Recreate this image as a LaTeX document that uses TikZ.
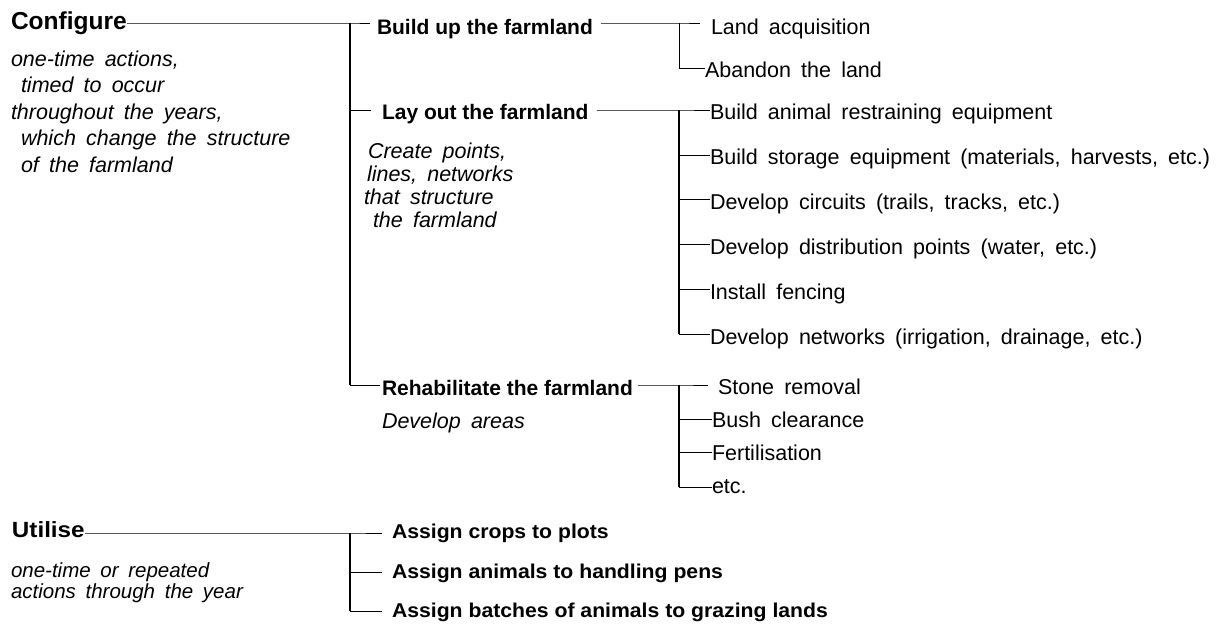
\documentclass[tikz,border=0pt]{standalone}
\usepackage{fontspec}
\setmainfont{Liberation Sans}
\newfontfamily\wsfont{Liberation Sans}[WordSpace=1.5]
\newfontfamily\itfont{Liberation Sans}[WordSpace=1.7]
\newfontfamily\cbfont{Liberation Sans}[FakeStretch=1.06]
\newfontfamily\cufont{Liberation Sans}[FakeStretch=1.1]
\newfontfamily\cdfont{Liberation Sans}[WordSpace=1.5]
\tikzset{
  lbl/.style={anchor=base west, inner sep=0pt, outer sep=0pt},
  itemtxt/.style={lbl, font=\wsfont\fontsize{21.5}{25}\selectfont},
  headtxt/.style={lbl, font=\bfseries\fontsize{21}{25}\selectfont},
  roottxt/.style={lbl, font=\bfseries\fontsize{24.5}{29}\selectfont},
  desctxt/.style={lbl, font=\itfont\itshape\fontsize{21.5}{25}\selectfont},
  bheadtxt/.style={lbl, font=\cbfont\bfseries\fontsize{20}{24}\selectfont},
  broottxt/.style={lbl, font=\cufont\bfseries\fontsize{22}{26}\selectfont},
  bdesctxt/.style={lbl, font=\cdfont\itshape\fontsize{20.5}{24}\selectfont},
  conn/.style={line width=1pt, black},
  trunk/.style={line width=1.4pt, black}
}
\begin{document}
\begin{tikzpicture}[x=1pt,y=-1pt]
\fill[white] (0,0) rectangle (1216,624);
\useasboundingbox (0,0) rectangle (1216,624);

% ---- Configure ----
\node[roottxt] (conf) at (11,29) {Configure};
\node[desctxt] (cd1) at (11,66) {one-time actions,};
\node[desctxt] (cd2) at (21,92) {timed to occur};
\node[desctxt] (cd3) at (11,119) {throughout the years,};
\node[desctxt] (cd4) at (21,145) {which change the structure};
\node[desctxt] (cd5) at (21,172) {of the farmland};

\node[headtxt] (bu) at (377,34) {Build up the farmland};
\node[itemtxt] (la) at (711,34) {Land acquisition};
\node[itemtxt] (ab) at (705,77) {Abandon the land};

\node[headtxt] (lo) at (382,119) {Lay out the farmland};
\node[desctxt] (ld1) at (368,158) {Create points,};
\node[desctxt] (ld2) at (367,181) {lines, networks};
\node[desctxt] (ld3) at (364,204) {that structure};
\node[desctxt] (ld4) at (373,227) {the farmland};

\node[itemtxt] (i1) at (710,119) {Build animal restraining equipment};
\node[itemtxt] (i2) at (710,164) {Build storage equipment (materials, harvests, etc.)};
\node[itemtxt] (i3) at (710,209) {Develop circuits (trails, tracks, etc.)};
\node[itemtxt] (i4) at (710,254) {Develop distribution points (water, etc.)};
\node[itemtxt] (i5) at (710,299) {Install fencing};
\node[itemtxt] (i6) at (710,344) {Develop networks (irrigation, drainage, etc.)};

\node[headtxt] (rh) at (382,395) {Rehabilitate the farmland};
\node[desctxt] (rd) at (382,428) {Develop areas};
\node[itemtxt] (sr) at (718,394) {Stone removal};
\node[itemtxt] (bc) at (712,427) {Bush clearance};
\node[itemtxt] (fe) at (712,460) {Fertilisation};
\node[itemtxt] (et) at (712,493) {etc.};

% ---- Utilise ----
\node[broottxt] (ut) at (12,537) {Utilise};
\node[bdesctxt] (ud1) at (11,577) {one-time or repeated};
\node[bdesctxt] (ud2) at (11,598) {actions through the year};
\node[bheadtxt] (u1) at (392,538) {Assign crops to plots};
\node[bheadtxt] (u2) at (392,578) {Assign animals to handling pens};
\node[bheadtxt] (u3) at (392,617) {Assign batches of animals to grazing lands};

% ---- junction coordinates ----
\coordinate (A1) at (350,23);
\coordinate (A2) at (350,110);
\coordinate (A3) at (350,385);
\coordinate (B1) at (679,23);
\coordinate (B2) at (679,68);
\coordinate (C1) at (679,110);
\coordinate (C2) at (679,155);
\coordinate (C3) at (679,199);
\coordinate (C4) at (679,244);
\coordinate (C5) at (679,289);
\coordinate (C6) at (679,334);
\coordinate (D1) at (679,385);
\coordinate (D2) at (679,419);
\coordinate (D3) at (679,452);
\coordinate (D4) at (679,487);
\coordinate (E1) at (350,533);
\coordinate (E2) at (350,572);
\coordinate (E3) at (350,611);

% ---- connectors: Configure ----
\draw[conn] (conf.east |- A1) -- (A1) -- ([xshift=-7pt]bu.west |- A1);
\draw[trunk] (A1) -- (A3);
\draw[conn] (A2) -- ([xshift=-11pt]lo.west |- A2);
\draw[conn] (A3) -- ([xshift=-2pt]rh.west |- A3);

\draw[conn] ([xshift=8pt]bu.east |- B1) -- (B1) -- ([xshift=-11pt]la.west |- B1);
\draw[conn] (B1) -- (B2) -- (ab.west |- B2);

\draw[conn] ([xshift=8pt]lo.east |- C1) -- (C1) -- (i1.west |- C1);
\draw[trunk] (C1) -- (C6);
\draw[conn] (C2) -- (i2.west |- C2);
\draw[conn] (C3) -- (i3.west |- C3);
\draw[conn] (C4) -- (i4.west |- C4);
\draw[conn] (C5) -- (i5.west |- C5);
\draw[conn] (C6) -- (i6.west |- C6);

\draw[conn] ([xshift=5pt]rh.east |- D1) -- (D1) -- ([xshift=-10pt]sr.west |- D1);
\draw[trunk] (D1) -- (D4);
\draw[conn] (D2) -- (bc.west |- D2);
\draw[conn] (D3) -- (fe.west |- D3);
\draw[conn] (D4) -- (et.west |- D4);

% ---- connectors: Utilise ----
\draw[conn] (ut.east |- E1) -- (E1) -- ([xshift=-10pt]u1.west |- E1);
\draw[trunk] (E1) -- (E3);
\draw[conn] (E2) -- ([xshift=-10pt]u2.west |- E2);
\draw[conn] (E3) -- ([xshift=-10pt]u3.west |- E3);
\end{tikzpicture}
\end{document}
